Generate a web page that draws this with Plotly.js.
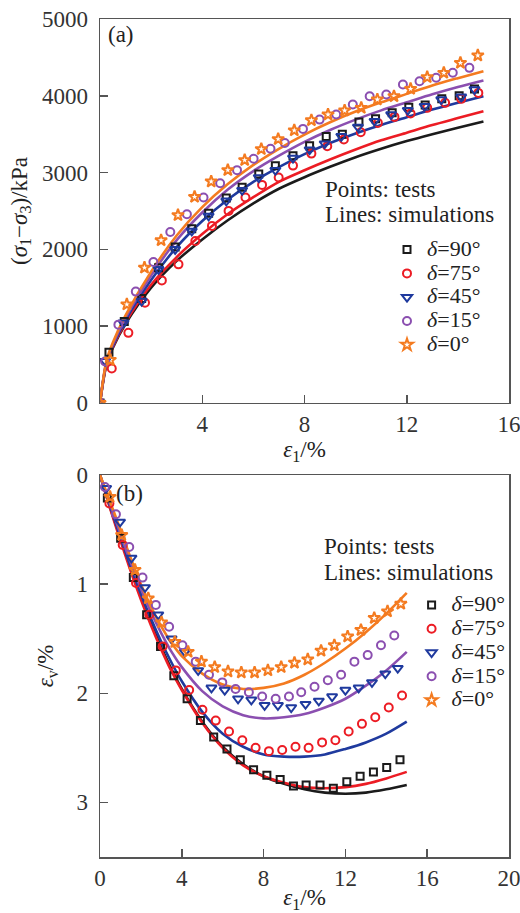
<!DOCTYPE html>
<html>
<head>
<meta charset="utf-8">
<script src="https://cdn.plot.ly/plotly-3.0.1.min.js"></script>
<style>html,body{margin:0;padding:0;background:#fff;}#chart{width:520px;height:913px;}</style>
</head>
<body>
<div id="chart"></div>
<script>
// ---------- Data ----------
const seriesNames = ['δ=90°', 'δ=75°', 'δ=45°', 'δ=15°', 'δ=0°'];

// Panel (a): deviatoric stress vs axial strain — simulations (lines)
const aLineX = [0, 0.25, 0.5, 1, 2, 3, 4, 5, 6, 7, 8, 9, 10, 11, 12, 13, 14, 15];
const aLine90 = [0, 495, 715, 1030, 1500, 1850, 2130, 2380, 2600, 2790, 2940, 3075, 3200, 3310, 3410, 3500, 3585, 3665];
const aLine75 = [0, 505, 725, 1050, 1540, 1900, 2200, 2460, 2680, 2880, 3030, 3170, 3300, 3420, 3520, 3620, 3710, 3800];
const aLine45 = [0, 520, 740, 1080, 1600, 2030, 2370, 2650, 2880, 3070, 3240, 3385, 3510, 3620, 3720, 3820, 3910, 3995];
const aLine15 = [0, 530, 760, 1110, 1660, 2120, 2480, 2780, 3020, 3220, 3400, 3555, 3690, 3810, 3915, 4020, 4115, 4200];
const aLine0  = [0, 545, 785, 1140, 1710, 2180, 2550, 2850, 3100, 3310, 3495, 3655, 3795, 3915, 4025, 4135, 4230, 4320];

// Panel (a): tests (points)
const aPt90X = [0, 0.35, 0.95, 1.63, 2.29, 2.94, 3.59, 4.25, 4.94, 5.56, 6.21, 6.86, 7.55, 8.2, 8.85, 9.48, 10.13, 10.78, 11.43, 12.08, 12.72, 13.37, 14.05, 14.65];
const aPt90Y = [0, 660, 1060, 1360, 1760, 2030, 2270, 2470, 2670, 2810, 2980, 3090, 3220, 3350, 3470, 3500, 3660, 3700, 3780, 3850, 3880, 3960, 4000, 4090];
const aPt75X = [0, 0.46, 1.11, 1.76, 2.42, 3.07, 3.73, 4.38, 5.03, 5.69, 6.34, 6.99, 7.55, 8.27, 8.89, 9.54, 10.2, 10.87, 11.52, 12.15, 12.8, 13.5, 14.13, 14.8];
const aPt75Y = [0, 448, 913, 1305, 1596, 1805, 2110, 2306, 2501, 2675, 2840, 2936, 3091, 3247, 3343, 3430, 3525, 3647, 3725, 3769, 3843, 3908, 3960, 4038];
const aPt45X = [0, 0.2, 0.92, 1.63, 2.29, 2.94, 3.59, 4.25, 4.94, 5.56, 6.21, 6.86, 7.55, 8.2, 8.79, 9.44, 10.09, 10.74, 11.39, 12.04, 12.7, 13.35, 14.13, 14.65];
const aPt45Y = [0, 544, 1044, 1327, 1740, 2001, 2240, 2436, 2632, 2771, 2936, 3032, 3190, 3299, 3377, 3473, 3595, 3669, 3756, 3812, 3864, 3951, 3986, 4082];
const aPt15X = [0, 0.2, 0.72, 1.4, 2.09, 2.75, 3.4, 4.05, 4.7, 5.36, 6.01, 6.67, 7.23, 7.94, 8.59, 9.24, 9.89, 10.55, 11.2, 11.85, 12.5, 13.15, 13.8, 14.45];
const aPt15Y = [0, 540, 1020, 1450, 1836, 2227, 2458, 2675, 2862, 3032, 3180, 3310, 3386, 3569, 3690, 3756, 3886, 3994, 4016, 4147, 4190, 4234, 4299, 4364];
const aPt0X  = [0, 0.4, 1.05, 1.74, 2.39, 3.05, 3.7, 4.35, 5.0, 5.66, 6.31, 6.97, 7.6, 8.27, 8.92, 9.57, 10.22, 10.85, 11.5, 12.15, 12.8, 13.45, 14.1, 14.78];
const aPt0Y  = [0, 560, 1283, 1762, 2118, 2445, 2684, 2884, 3032, 3162, 3306, 3436, 3550, 3681, 3756, 3808, 3843, 3951, 3994, 4090, 4242, 4299, 4429, 4525];

// Panel (b): volumetric strain vs axial strain — simulations (lines)
const bLineX = [0, 0.5, 1, 1.5, 2, 2.5, 3, 3.5, 4, 5, 6, 7, 8, 9, 10, 11, 12, 13, 14, 15];
const bLine90 = [0, 0.30, 0.58, 0.86, 1.12, 1.36, 1.58, 1.78, 1.96, 2.26, 2.49, 2.65, 2.76, 2.83, 2.88, 2.91, 2.92, 2.91, 2.88, 2.84];
const bLine75 = [0, 0.31, 0.60, 0.88, 1.14, 1.38, 1.60, 1.80, 1.97, 2.27, 2.50, 2.66, 2.76, 2.82, 2.86, 2.87, 2.86, 2.83, 2.78, 2.72];
const bLine45 = [0, 0.29, 0.57, 0.84, 1.09, 1.32, 1.53, 1.72, 1.89, 2.17, 2.37, 2.49, 2.56, 2.58, 2.58, 2.56, 2.51, 2.45, 2.37, 2.26];
const bLine15 = [0, 0.27, 0.54, 0.80, 1.04, 1.26, 1.45, 1.62, 1.76, 1.98, 2.12, 2.20, 2.23, 2.22, 2.19, 2.13, 2.05, 1.93, 1.79, 1.62];
const bLine0  = [0, 0.25, 0.50, 0.76, 1.00, 1.21, 1.39, 1.54, 1.66, 1.82, 1.92, 1.96, 1.95, 1.91, 1.83, 1.72, 1.59, 1.44, 1.27, 1.08];

// Panel (b): tests (points)
const bPt90X = [0.36, 1.01, 1.63, 2.28, 2.96, 3.61, 4.26, 4.91, 5.56, 6.21, 6.86, 7.51, 8.16, 8.81, 9.46, 10.08, 10.76, 11.41, 12.07, 12.72, 13.37, 14.02, 14.67];
const bPt90Y = [0.21, 0.58, 0.94, 1.28, 1.57, 1.84, 2.05, 2.25, 2.40, 2.51, 2.61, 2.70, 2.75, 2.79, 2.85, 2.84, 2.84, 2.87, 2.81, 2.76, 2.72, 2.68, 2.61];
const bPt75X = [0.46, 1.11, 1.76, 2.41, 3.06, 3.71, 4.36, 5.01, 5.66, 6.31, 6.96, 7.61, 8.26, 8.91, 9.56, 10.2, 10.86, 11.51, 12.16, 12.81, 13.46, 14.12, 14.77];
const bPt75Y = [0.26, 0.64, 0.99, 1.28, 1.57, 1.79, 1.97, 2.15, 2.25, 2.35, 2.43, 2.50, 2.53, 2.52, 2.49, 2.50, 2.45, 2.43, 2.35, 2.28, 2.22, 2.13, 2.02];
const bPt45X = [0.3, 0.98, 1.54, 2.2, 2.85, 3.5, 4.15, 4.8, 5.45, 6.1, 6.75, 7.4, 8.05, 8.7, 9.35, 10.05, 10.7, 11.35, 12.0, 12.65, 13.3, 13.95, 14.56];
const bPt45Y = [0.12, 0.43, 0.76, 1.03, 1.28, 1.50, 1.62, 1.79, 1.95, 1.97, 2.05, 2.06, 2.11, 2.11, 2.13, 2.10, 2.07, 2.03, 1.97, 1.95, 1.90, 1.82, 1.77];
const bPt15X = [0.24, 0.78, 1.43, 2.08, 2.73, 3.38, 4.03, 4.68, 5.33, 5.98, 6.63, 7.28, 7.93, 8.59, 9.24, 9.84, 10.49, 11.14, 11.79, 12.44, 13.09, 13.74, 14.39];
const bPt15Y = [0.11, 0.36, 0.66, 0.94, 1.19, 1.39, 1.56, 1.71, 1.83, 1.90, 1.96, 1.99, 2.03, 2.05, 2.03, 1.99, 1.94, 1.88, 1.83, 1.71, 1.65, 1.56, 1.47];
const bPt0X  = [0.49, 1.06, 1.71, 2.36, 3.01, 3.66, 4.31, 4.96, 5.61, 6.26, 6.91, 7.56, 8.21, 8.86, 9.51, 10.16, 10.81, 11.46, 12.11, 12.76, 13.41, 14.06, 14.71];
const bPt0Y  = [0.20, 0.55, 0.87, 1.13, 1.35, 1.53, 1.62, 1.71, 1.76, 1.80, 1.81, 1.81, 1.79, 1.76, 1.72, 1.69, 1.61, 1.56, 1.48, 1.42, 1.31, 1.25, 1.18];

const aXTicks = [4, 8, 12, 16];
const aYTicks = [0, 1000, 2000, 3000, 4000, 5000];
const bXTicks = [0, 4, 8, 12, 16, 20];
const bYTicks = [0, 1, 2, 3];

// ---------- Styles ----------
const colors = ['#1b1b1b', '#ec1c24', '#1f3a9e', '#8b4fb0', '#f47b20'];
const symbols = ['square-open', 'circle-open', 'triangle-down-open', 'circle-open', 'star-open'];
const sizes = [7, 8, 9, 8, 9];
const FONT = 'Liberation Serif';

const aLines = [aLine90, aLine75, aLine45, aLine15, aLine0];
const aPts = [[aPt90X, aPt90Y], [aPt75X, aPt75Y], [aPt45X, aPt45Y], [aPt15X, aPt15Y], [aPt0X, aPt0Y]];
const bLines = [bLine90, bLine75, bLine45, bLine15, bLine0];
const bPts = [[bPt90X, bPt90Y], [bPt75X, bPt75Y], [bPt45X, bPt45Y], [bPt15X, bPt15Y], [bPt0X, bPt0Y]];

const legendName = n => '<span style="font-size:22px"><i>δ</i>' + n.slice(1) + '</span>';

const traces = [];
for (let i = 0; i < 5; i++) {
  traces.push({x: aLineX, y: aLines[i], xaxis: 'x', yaxis: 'y', mode: 'lines', line: {color: colors[i], width: 2.6, shape: 'spline', smoothing: 0.8}, showlegend: false, hoverinfo: 'skip'});
  traces.push({x: bLineX, y: bLines[i], xaxis: 'x2', yaxis: 'y2', mode: 'lines', line: {color: colors[i], width: 2.6, shape: 'spline', smoothing: 0.8}, showlegend: false, hoverinfo: 'skip'});
}
for (let i = 0; i < 5; i++) {
  traces.push({x: aPts[i][0], y: aPts[i][1], xaxis: 'x', yaxis: 'y', mode: 'markers', name: legendName(seriesNames[i]), legend: 'legend',
    marker: {symbol: symbols[i], size: sizes[i], color: colors[i], line: {color: colors[i], width: 2}}});
  traces.push({x: bPts[i][0], y: bPts[i][1], xaxis: 'x2', yaxis: 'y2', mode: 'markers', name: legendName(seriesNames[i]), legend: 'legend2',
    marker: {symbol: symbols[i], size: sizes[i], color: colors[i], line: {color: colors[i], width: 2}}});
}

const axisCommon = {
  showline: true, mirror: true, linecolor: '#555', linewidth: 1.5,
  ticks: 'inside', ticklen: 8, tickwidth: 1.5, tickcolor: '#555',
  showgrid: false, zeroline: false, ticklabeloverflow: 'allow',
  tickfont: {family: FONT, size: 23, color: '#333'}
};

const legendCommon = {
  xanchor: 'left', yanchor: 'top', bgcolor: 'rgba(0,0,0,0)', borderwidth: 0,
  font: {family: FONT, size: 16, color: '#222'}, tracegroupgap: 0, itemwidth: 30, traceorder: 'normal'
};

const annFont = {family: FONT, size: 23, color: '#222'};
const titleFont = {family: FONT, size: 23, color: '#222'};

const layout = {
  width: 520, height: 913,
  margin: {l: 100, r: 10, t: 19, b: 56},
  paper_bgcolor: '#fff', plot_bgcolor: '#fff',
  font: {family: FONT, color: '#222'},
  showlegend: true,
  xaxis: Object.assign({}, axisCommon, {domain: [0, 1], anchor: 'y', range: [0, 16], tickvals: aXTicks, ticklabelstandoff: 0,
    title: {text: '<i>ε</i><sub>1</sub>/%', font: titleFont, standoff: 0}}),
  yaxis: Object.assign({}, axisCommon, {domain: [0.5418, 1], anchor: 'x', range: [0, 5000], tickvals: aYTicks, ticklabelstandoff: 6,
    title: {text: '(<i>σ</i><sub>1</sub>−<i>σ</i><sub>3</sub>)/kPa', font: titleFont, standoff: 8}}),
  xaxis2: Object.assign({}, axisCommon, {domain: [0, 1], anchor: 'y2', range: [0, 20], tickvals: bXTicks, ticklabelstandoff: 0,
    title: {text: '<i>ε</i><sub>1</sub>/%', font: titleFont, standoff: 2}}),
  yaxis2: Object.assign({}, axisCommon, {domain: [0, 0.4558], anchor: 'x2', range: [3.5, 0], tickvals: bYTicks, ticklabelstandoff: 6,
    title: {text: '<i>ε</i><sub>v</sub>/%', font: titleFont, standoff: 16}}),
  legend: Object.assign({}, legendCommon, {x: 0.70, y: 0.745}),
  legend2: Object.assign({}, legendCommon, {x: 0.76, y: 0.321}),
  annotations: [
    {xref: 'paper', yref: 'paper', x: 0.015, y: 0.981, xanchor: 'left', yanchor: 'middle', text: '(a)', showarrow: false, font: annFont},
    {xref: 'paper', yref: 'paper', x: 0.546, y: 0.796, xanchor: 'left', yanchor: 'middle', text: 'Points: tests', showarrow: false, font: annFont},
    {xref: 'paper', yref: 'paper', x: 0.546, y: 0.767, xanchor: 'left', yanchor: 'middle', text: 'Lines: simulations', showarrow: false, font: annFont},
    {xref: 'paper', yref: 'paper', x: 0.035, y: 0.434, xanchor: 'left', yanchor: 'middle', text: '(b)', showarrow: false, font: annFont},
    {xref: 'paper', yref: 'paper', x: 0.544, y: 0.370, xanchor: 'left', yanchor: 'middle', text: 'Points: tests', showarrow: false, font: annFont},
    {xref: 'paper', yref: 'paper', x: 0.544, y: 0.340, xanchor: 'left', yanchor: 'middle', text: 'Lines: simulations', showarrow: false, font: annFont}
  ]
};

Plotly.newPlot('chart', traces, layout, {staticPlot: true, displayModeBar: false});
</script>
</body>
</html>
